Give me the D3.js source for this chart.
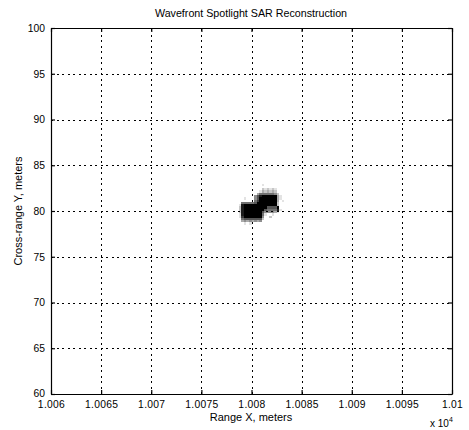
<!DOCTYPE html>
<html>
<head>
<meta charset="utf-8">
<script src="https://cdn.jsdelivr.net/npm/d3@7"></script>
<style>
  html, body { margin: 0; padding: 0; background: #fff; }
  svg { display: block; }
  text { font-family: "Liberation Sans", Arial, sans-serif; fill: #000; }
</style>
</head>
<body>
<svg id="chart" width="469" height="430"></svg>
<script>
// Axis ticks (range in metres, cross-range in metres)
const xTicks = [10060, 10065, 10070, 10075, 10080, 10085, 10090, 10095, 10100];
const xTickLabels = ["1.006", "1.0065", "1.007", "1.0075", "1.008", "1.0085", "1.009", "1.0095", "1.01"];
const yTicks = [60, 65, 70, 75, 80, 85, 90, 95, 100];
const yTickLabels = ["60", "65", "70", "75", "80", "85", "90", "95", "100"];

// Reconstructed image patch around the target: 0.25 m cells,
// columns from x0 eastward, rows from y0 downward; digit = intensity 0..9
const patchX0 = 10078.5;
const patchY0 = 83.0;
const cellSize = 0.25;
const intensityRows = [
  "00000000001000000000",
  "00000000000000000000",
  "00000000002121210000",
  "00000000013232320000",
  "00000000355555542000",
  "00000004689999993100",
  "00010004699999993100",
  "00000005799999993010",
  "00555556999999992000",
  "01899999999999992000",
  "02899999999966669000",
  "02899999999655558100",
  "02899999996444431000",
  "01899999995100100000",
  "01799999994002000000",
  "00566666662000000000",
  "00343434340000000000",
  "00010100000000000000",
  "00000000000000000000",
  "00000000000000000000"
];

const W = 469, H = 430;
const margin = { left: 51, right: 17, top: 28, bottom: 36 };
const svg = d3.select("#chart");

const x = d3.scaleLinear().domain([10060, 10100]).range([margin.left, W - margin.right]);
const y = d3.scaleLinear().domain([60, 100]).range([H - margin.bottom, margin.top]);
const shade = d3.scaleLinear().domain([0, 9]).range(["#ffffff", "#000000"]);

// Image cells
const cells = [];
intensityRows.forEach((row, r) => {
  row.split("").forEach((ch, c) => {
    const v = +ch;
    if (v > 0) cells.push({ x0: patchX0 + c * cellSize, y0: patchY0 - r * cellSize, v });
  });
});
svg.append("g").selectAll("rect")
  .data(cells)
  .join("rect")
  .attr("x", d => x(d.x0))
  .attr("y", d => y(d.y0))
  .attr("width", d => x(d.x0 + cellSize) - x(d.x0))
  .attr("height", d => y(d.y0 - cellSize) - y(d.y0))
  .attr("fill", d => shade(d.v))
  .attr("shape-rendering", "crispEdges");

// Dotted grid
const grid = svg.append("g").attr("stroke", "#000").attr("stroke-width", 1)
  .attr("stroke-dasharray", "2,3.5").attr("shape-rendering", "crispEdges");
grid.selectAll("line.gx").data(xTicks).join("line").attr("class", "gx")
  .attr("x1", d => Math.round(x(d)) + 0.5).attr("x2", d => Math.round(x(d)) + 0.5)
  .attr("y1", y(60)).attr("y2", y(100));
grid.selectAll("line.gy").data(yTicks).join("line").attr("class", "gy")
  .attr("y1", d => Math.round(y(d)) + 0.5).attr("y2", d => Math.round(y(d)) + 0.5)
  .attr("x1", x(10060)).attr("x2", x(10100));

// Axes (ticks pointing inward, box all round)
const fmtX = (d, i) => xTickLabels[i];
const fmtY = (d, i) => yTickLabels[i];
const axB = svg.append("g").attr("transform", `translate(0,${y(60)})`)
  .call(d3.axisBottom(x).tickValues(xTicks).tickFormat(fmtX).tickSizeInner(-4).tickSizeOuter(0).tickPadding(7));
const axL = svg.append("g").attr("transform", `translate(${x(10060)},0)`)
  .call(d3.axisLeft(y).tickValues(yTicks).tickFormat(fmtY).tickSizeInner(-4).tickSizeOuter(0).tickPadding(6));
const axT = svg.append("g").attr("transform", `translate(0,${y(100)})`)
  .call(d3.axisTop(x).tickValues(xTicks).tickFormat("").tickSizeInner(-4).tickSizeOuter(0));
const axR = svg.append("g").attr("transform", `translate(${x(10100)},0)`)
  .call(d3.axisRight(y).tickValues(yTicks).tickFormat("").tickSizeInner(-4).tickSizeOuter(0));
[axB, axL, axT, axR].forEach(a => {
  a.selectAll("path, line").attr("stroke", "#000").attr("stroke-width", 1.2);
  a.selectAll("text").style("font-size", "10.3px").attr("fill", "#000");
});
axB.selectAll("text").style("letter-spacing", "0.3px");
// keep the lowest y label clear of the first x label
axL.selectAll(".tick text").filter(d => d === 60).attr("dy", "0.2em");

// Titles and labels
svg.append("text").attr("x", 251).attr("y", 17).attr("text-anchor", "middle")
  .style("font-size", "10.7px").text("Wavefront Spotlight SAR Reconstruction");
svg.append("text").attr("x", 251).attr("y", 421).attr("text-anchor", "middle")
  .style("font-size", "11px").text("Range X, meters");
svg.append("text").attr("transform", `translate(22,${y(80)}) rotate(-90)`).attr("text-anchor", "middle")
  .style("font-size", "11px").text("Cross-range Y, meters");
const mult = svg.append("text").attr("x", 430).attr("y", 427).style("font-size", "10px");
mult.append("tspan").text("x 10");
mult.append("tspan").attr("dy", -5).style("font-size", "7px").text("4");
</script>
</body>
</html>
